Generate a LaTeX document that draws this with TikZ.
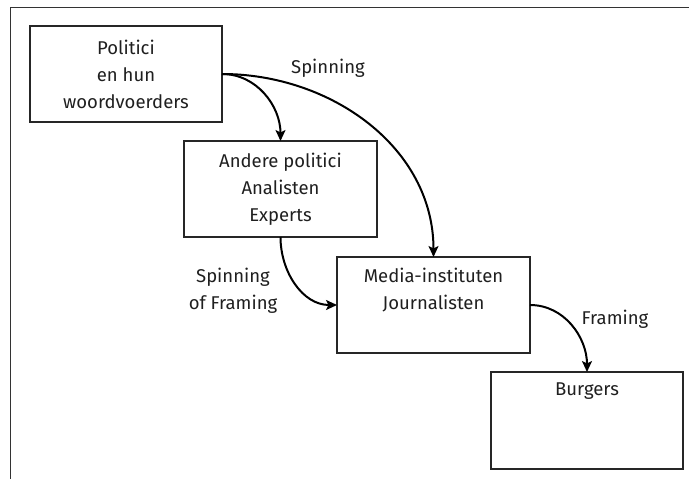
\documentclass[tikz,border=0pt]{standalone}
\usepackage{fontspec}
\setmainfont{Fira Sans}
\usetikzlibrary{arrows.meta}
\begin{document}
\begin{tikzpicture}[x=1pt,y=-1pt,
  box/.style={draw=black!85, line width=1.1pt, inner sep=0pt, outer sep=0pt, align=center, font=\fontsize{18.5}{27}\selectfont, text=black!88},
  toptext/.style={anchor=north, inner sep=0pt, align=center, font=\fontsize{18.5}{27}\selectfont, text=black!88},
  lbl/.style={inner sep=0pt, align=center, font=\fontsize{18.5}{27}\selectfont, text=black!88},
  conn/.style={draw=black, line width=2pt, -{Stealth[length=11pt,width=10pt,inset=2.5pt]}}]
\useasboundingbox (0,0) rectangle (689,479);
\draw[black!80, line width=0.9pt] (10,479) -- (10,7) -- (689,7);
\node[box, minimum width=192, minimum height=96] (b1) at (126,74) {Politici\\en hun\\woordvoerders};
\node[box, minimum width=193, minimum height=96] (b2) at (280.5,189) {Andere politici\\Analisten\\Experts};
\node[box, minimum width=193, minimum height=96] (b3) at (433.5,305) {};
\node[toptext] (t3) at ([yshift=-11]b3.north) {Media-instituten\\Journalisten};
\node[box, minimum width=192, minimum height=97] (b4) at (587,420.5) {};
\node[toptext] (t4) at ([yshift=-11]b4.north) {Burgers};
\node[lbl] (l1) at (328,68) {Spinning};
\node[lbl] (l2) at (233,291) {Spinning\\of Framing};
\node[lbl] (l3) at (615,319) {Framing};
\draw[conn] (b1.east) to[out=0,in=90] (b2.north);
\draw[conn] (b1.east) to[out=0,in=90] (b3.north);
\draw[conn] (b2.south) to[out=-90,in=180] (b3.west);
\draw[conn] (b3.east) to[out=0,in=90] (b4.north);
\end{tikzpicture}
\end{document}
